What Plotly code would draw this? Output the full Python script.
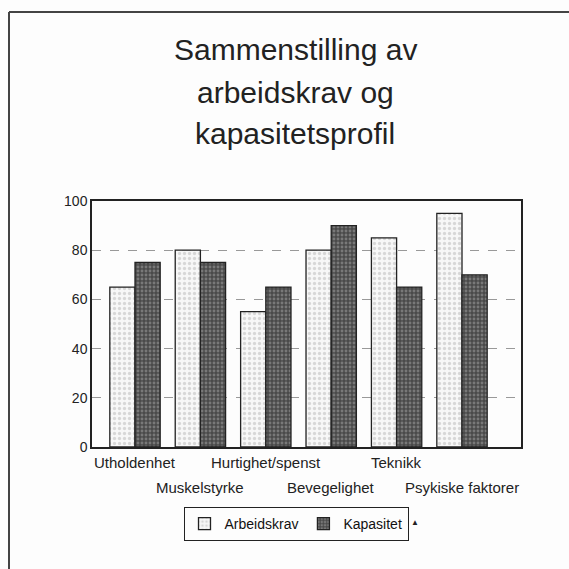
import plotly.graph_objects as go

categories = ["Utholdenhet", "Muskelstyrke", "Hurtighet/spenst", "Bevegelighet", "Teknikk", "Psykiske faktorer"]
label_row = [0, 1, 0, 1, 0, 1]
arbeidskrav = [65, 80, 55, 80, 85, 95]
kapasitet = [75, 75, 65, 90, 65, 70]
y_ticks = [0, 20, 40, 60, 80, 100]

W = H = 569
L, R, T, B = 92, 521, 201, 447

def px(x):
    return (x - L) / (R - L)

def py(y):
    return (B - y) / (B - T)

fig = go.Figure()
fig.add_trace(go.Bar(
    name="Arbeidskrav", x=categories, y=arbeidskrav,
    marker=dict(color="#f4f4f4", line=dict(color="#222", width=1.3),
                pattern=dict(shape=".", fgcolor="#b8b8b8", bgcolor="#f7f7f7", size=5, solidity=0.35)),
))
fig.add_trace(go.Bar(
    name="Kapasitet", x=categories, y=kapasitet,
    marker=dict(color="#555", line=dict(color="#222", width=1.3),
                pattern=dict(shape=".", fgcolor="#a8a8a8", bgcolor="#4a4a4a", size=4, solidity=0.4)),
))

font = "Liberation Sans, Arial, sans-serif"
title_lines = [("Sammenstilling av", 49), ("arbeidskrav og", 92), ("kapasitetsprofil", 134)]
annotations = []
for txt, yy in title_lines:
    annotations.append(dict(text=txt, x=px(295), y=py(yy), xref="paper", yref="paper",
                            showarrow=False, xanchor="center", yanchor="middle",
                            font=dict(family=font, size=30, color="#222")))
for cat, row in zip(categories, label_row):
    annotations.append(dict(text=cat, x=cat, xref="x", y=py(462 + 25 * row), yref="paper",
                            showarrow=False, xanchor="center", yanchor="middle",
                            font=dict(family=font, size=15, color="#222")))
annotations.append(dict(text="▲", x=px(421), y=py(529), xref="paper", yref="paper",
                        showarrow=False, font=dict(family=font, size=8, color="#222")))

shapes = [
    dict(type="line", xref="paper", yref="paper", x0=px(9), x1=px(575), y0=py(12), y1=py(12),
         line=dict(color="#444", width=2)),
    dict(type="line", xref="paper", yref="paper", x0=px(9), x1=px(9), y0=py(12), y1=py(575),
         line=dict(color="#444", width=2)),
]

fig.update_layout(
    width=W, height=H,
    margin=dict(l=L, r=W - R, t=T, b=H - B, autoexpand=False),
    paper_bgcolor="#fdfdfd", plot_bgcolor="#fdfdfd",
    barmode="group", bargap=0.23, bargroupgap=0,
    font=dict(family=font, size=14, color="#111"),
    showlegend=True,
    legend=dict(orientation="h", x=px(296), y=py(524), xanchor="center", yanchor="middle",
                bordercolor="#222", borderwidth=1, bgcolor="#fdfdfd",
                font=dict(family=font, size=14, color="#111"), itemwidth=30,
                tracegroupgap=0),
    annotations=annotations,
    shapes=shapes,
    xaxis=dict(showticklabels=False, showline=True, linecolor="#222", linewidth=1.5, mirror=True,
               ticks=""),
    yaxis=dict(range=[0, 100], tickvals=y_ticks, showline=True, linecolor="#222",
               linewidth=1.5, mirror=True, ticks="", showgrid=True,
               gridcolor="#999", griddash="dash", gridwidth=1, zeroline=False,
               tickfont=dict(size=14, color="#222")),
)

fig.write_html("out.html", config={"displayModeBar": False})
with open("out.html", "r", encoding="utf-8") as f:
    html = f.read()
html = html.replace("<head>", "<head><style>html,body{margin:0;padding:0;overflow:hidden;}</style>", 1)
with open("out.html", "w", encoding="utf-8") as f:
    f.write(html)
